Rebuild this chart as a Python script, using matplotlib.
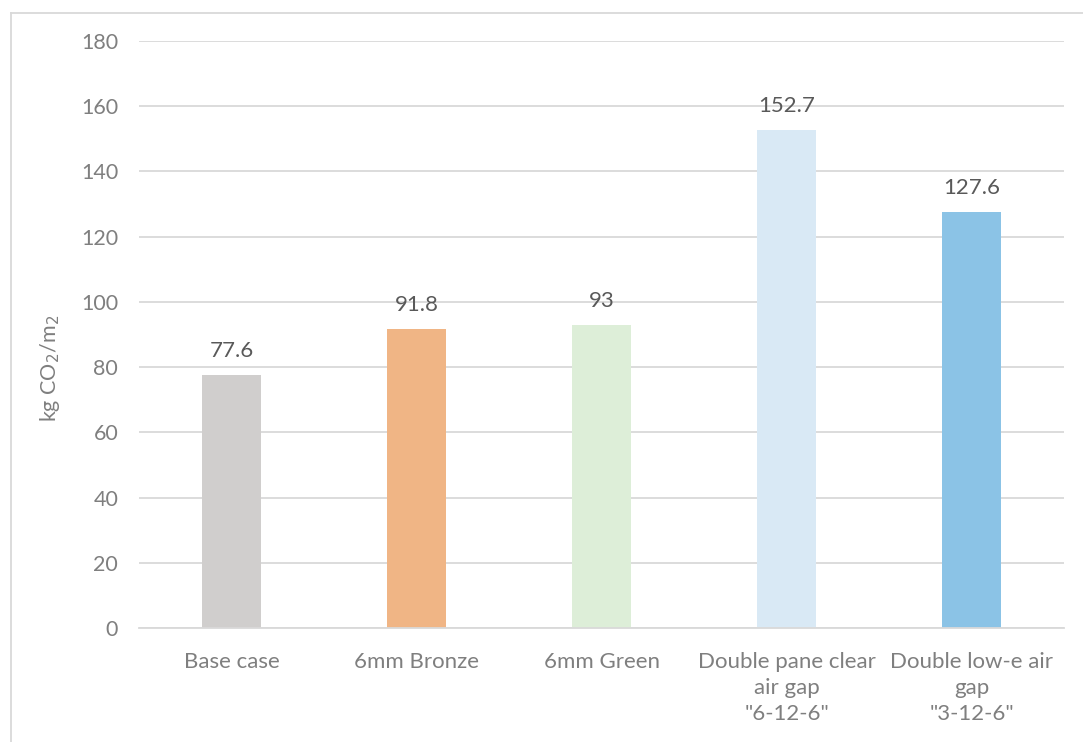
import matplotlib
matplotlib.use("Agg")
import matplotlib.pyplot as plt
from matplotlib.lines import Line2D

categories = ["Base case", "6mm Bronze", "6mm Green",
              "Double pane clear\nair gap\n\"6-12-6\"",
              "Double low-e air\ngap\n\"3-12-6\""]
values = [77.6, 91.8, 93, 152.7, 127.6]
value_labels = ["77.6", "91.8", "93", "152.7", "127.6"]
colors = ["#D0CECD", "#F0B585", "#DDEED8", "#D9E9F5", "#8BC3E6"]
yticks = [0, 20, 40, 60, 80, 100, 120, 140, 160, 180]

plt.rcParams['font.family'] = ['Lato', 'DejaVu Sans']

W, H = 1083, 742
fig = plt.figure(figsize=(W / 100, H / 100), dpi=100)
ax = fig.add_axes([139 / W, 1 - 628 / H, (1064 - 139) / W, (628 - 41) / H])

x = list(range(len(categories)))
ax.bar(x, values, width=0.32, color=colors, zorder=3)
ax.set_xlim(-0.5, len(categories) - 0.5)
ax.set_ylim(0, 180)
ax.set_yticks(yticks)
ax.set_yticklabels([str(t) for t in yticks])
ax.set_xticks(x)
ax.set_xticklabels(categories, linespacing=1.4, va='top', fontsize=16)

for xi, v, lab in zip(x, values, value_labels):
    ax.annotate(lab, (xi, v), xytext=(0, 10), textcoords='offset points',
                ha='center', va='bottom', fontsize=16, color='#595959')

ax.grid(axis='y', color='#D9D9D9', linewidth=1.3, zorder=0)
for s in ['top', 'right', 'left']:
    ax.spines[s].set_visible(False)
ax.spines['bottom'].set_color('#D9D9D9')
ax.spines['bottom'].set_linewidth(1.3)
ax.spines['bottom'].set_zorder(4)
ax.tick_params(axis='both', length=0, labelcolor='#7F7F7F')
ax.tick_params(axis='y', pad=15, labelsize=15.5)
ax.tick_params(axis='x', pad=17)

ax.set_ylabel("kg CO$_2$/m$_2$", fontsize=15.5, color='#7F7F7F')
ax.yaxis.set_label_coords(-0.083, 0.443)

# outer chart border (left and top visible)
fig.add_artist(Line2D([10.5 / W, 10.5 / W], [0, 1 - 12.5 / H], transform=fig.transFigure,
                      color='#D9D9D9', linewidth=1.3))
fig.add_artist(Line2D([10.5 / W, 1], [1 - 12.5 / H, 1 - 12.5 / H], transform=fig.transFigure,
                      color='#D9D9D9', linewidth=1.3))

fig.savefig("out.png", dpi=100, facecolor='white')
